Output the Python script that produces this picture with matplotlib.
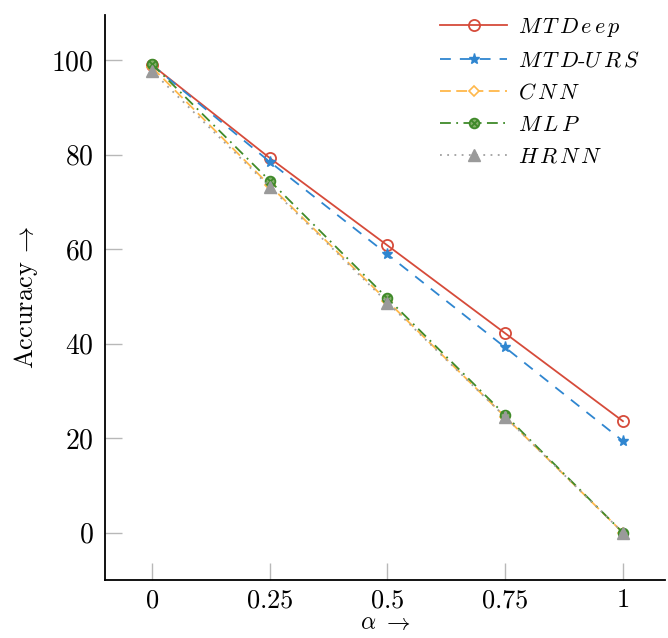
import numpy as np
import matplotlib
matplotlib.use("Agg")
import matplotlib.pyplot as plt
from matplotlib.path import Path
from matplotlib.markers import MarkerStyle

plt.rcParams['font.family'] = 'serif'
plt.rcParams['font.serif'] = ['cmr10']
plt.rcParams['mathtext.fontset'] = 'cm'
plt.rcParams['axes.formatter.use_mathtext'] = True

# data
alpha = [0, 0.25, 0.5, 0.75, 1]
mtdeep = [99.0, 79.3, 60.8, 42.2, 23.6]
mtd_urs = [99.0, 78.5, 58.9, 39.2, 19.4]
cnn = [98.5, 73.5, 49.0, 24.5, 0.0]
mlp = [99.2, 74.5, 49.6, 24.9, 0.0]
hrnn = [97.7, 73.2, 48.7, 24.5, 0.0]

xtick_vals = [0, 0.25, 0.5, 0.75, 1]
xtick_labels = ["0", "0.25", "0.5", "0.75", "1"]
ytick_vals = [0, 20, 40, 60, 80, 100]

# circle with a cross inside (otimes style marker)
circ = Path.unit_circle()
d = 0.7071
cross = Path([(-d, -d), (d, d), (-d, d), (d, -d)],
             [Path.MOVETO, Path.LINETO, Path.MOVETO, Path.LINETO])
otimes = MarkerStyle(Path.make_compound_path(circ, cross))

fig = plt.figure(figsize=(6.68, 6.38), dpi=100)
ax = fig.add_axes([0.157, 0.091, 0.839, 0.885])

ax.plot(alpha, mtdeep, color='#d64b3a', lw=1.3, marker='o', ms=8,
        mfc='none', mec='#d64b3a', mew=1.3, label=r'$M\,T\,D\,e\,e\,p$')
ax.plot(alpha, mtd_urs, color='#2f86d0', lw=1.3, ls=(0, (6, 5)), marker='*',
        ms=8, mfc='#2f86d0', mec='#2f86d0', label=r'$M\,T\,D$-$U\,R\,S$')
ax.plot(alpha, cnn, color='#ffb84a', lw=1.3, ls=(0, (6, 3)), marker='D',
        ms=5, mfc='white', mec='#ffb84a', mew=1.2, label=r'$C\,N\,N$')
ax.plot(alpha, mlp, color='#3f8a2a', lw=1.3, ls=(0, (6, 3, 1, 3)),
        marker=otimes, ms=7, mfc='#86b06c', mec='#3f8a2a', mew=1.3,
        label=r'$M\,L\,P$')
ax.plot(alpha, hrnn, color='#a0a0a0', lw=1.3, ls=(0, (1, 3)), marker='^',
        ms=8, mfc='#9a9a9a', mec='#9a9a9a', label=r'$H\,R\,N\,N$')

ax.set_xlim(-0.1, 1.09)
ax.set_ylim(-10, 109.5)
ax.set_xticks(xtick_vals)
ax.set_xticklabels(['$' + t + '$' for t in xtick_labels])
ax.set_yticks(ytick_vals)
ax.set_yticklabels(['$%d$' % v for v in ytick_vals])
ax.tick_params(direction='in', length=12, width=1, color='#b8b8b8',
               labelsize=20, pad=8)
ax.tick_params(axis='x', labelsize=19, pad=6)
ax.spines['top'].set_visible(False)
ax.spines['right'].set_visible(False)
ax.spines['left'].set_linewidth(1.3)
ax.spines['bottom'].set_linewidth(1.3)

ax.set_xlabel(r'$\alpha\ \rightarrow$', fontsize=17, labelpad=0)
ax.set_ylabel(r'Accuracy $\!\rightarrow$', fontsize=19, labelpad=8)

ax.legend(loc='upper right', bbox_to_anchor=(0.99, 1.035), frameon=False,
          fontsize=16, handlelength=3.0, labelspacing=0.55, handletextpad=0.5,
          markerfirst=True)

fig.savefig('out.png', dpi=100)
